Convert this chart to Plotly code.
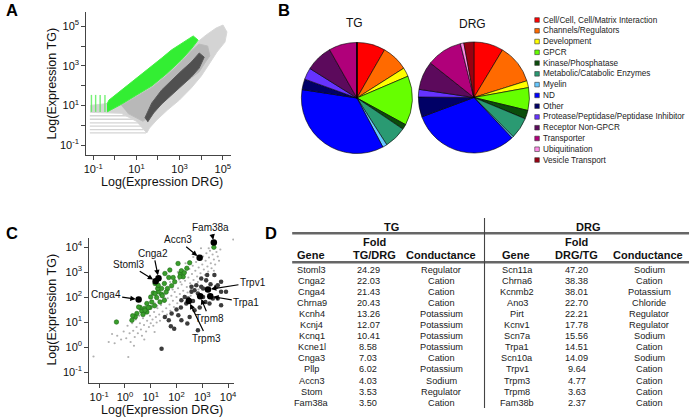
import numpy as np
import plotly.graph_objects as go

W, H = 695, 420
FONT = "Liberation Sans, Arial, Helvetica, sans-serif"


def px(x):
    return x / W


def py(y):
    return 1 - y / H


# ---------------- Panel A : outlines of the point clouds (log10 DRG, log10 TG) ----------------
a_gray_lx = [-1.14, -0.59, -0.13, 0.56, 1.25, 2.17, 3.08, 3.77, 4.23, 4.69, 5.01, 5.19, 5.10, 4.73,
             4.37, 4.00, 3.54, 2.99, 2.44, 1.94, 1.61, 1.48, 1.00, 0.30, -1.14]
a_gray_ly = [1.00, 1.05, 1.12, 1.68, 2.18, 2.80, 3.55, 4.15, 4.56, 4.91, 5.06, 4.71, 4.20, 3.70,
             3.09, 2.48, 1.88, 1.27, 0.77, 0.26, -0.14, -0.39, 0.20, 0.60, 0.65]
a_core_lx = [0.30, 1.02, 1.71, 2.39, 3.08, 3.54, 3.90, 4.30, 4.40, 4.20, 3.91, 3.30, 2.60, 2.00,
             1.60, 1.30, 0.60]
a_core_ly = [1.00, 1.45, 1.90, 2.50, 3.20, 3.75, 4.10, 4.00, 3.50, 3.20, 2.70, 2.20, 1.55, 0.90,
             0.40, 0.20, 0.60]
a_green_lx = [-0.36, 0.33, 1.02, 1.71, 2.39, 3.08, 3.54, 3.86, 3.63, 3.08, 2.62, 2.17, 1.71, 1.25,
              0.65, 0.10, -0.27, -0.36]
a_green_ly = [0.67, 1.07, 1.53, 1.98, 2.59, 3.29, 3.85, 4.30, 4.51, 4.10, 3.80, 3.39, 2.99, 2.59,
              2.08, 1.58, 1.27, 1.07]
a_dark_lx = [1.39, 1.71, 2.17, 2.62, 3.08, 3.54, 3.91, 4.14, 3.91, 3.54, 3.08, 2.62, 2.17, 1.80, 1.52]
a_dark_ly = [0.36, 1.12, 1.78, 2.28, 2.74, 3.19, 3.65, 3.44, 2.89, 2.43, 1.98, 1.53, 1.07, 0.62, 0.16]
# discrete low-count streaks
a_streak_tg = [0.41, 0.60, 0.89, 1.32, 2.0, 3.0]
a_streak_drg_end = [28, 22, 18, 14, 11, 9]
a_streak_drg_start = 0.07
a_gcol_drg = [0.083, 0.13, 0.21, 0.35]
a_gcol_tg = [4.7, 34]

a_tickvals = [0.1, 10, 1000, 1e5]
a_ticktext = ["10<sup>-1</sup>", "10<sup>1</sup>", "10<sup>3</sup>", "10<sup>5</sup>"]
a_minorvals = [1, 100, 1e4]

# ---------------- Panel B ----------------
categories = ["Cell/Cell, Cell/Matrix Interaction", "Channels/Regulators", "Development", "GPCR",
              "Kinase/Phosphatase", "Metabolic/Catabolic Enzymes", "Myelin", "ND", "Other",
              "Protease/Peptidase/Peptidase Inhibitor", "Receptor Non-GPCR", "Transporter",
              "Ubiquitination", "Vesicle Transport"]
cat_colors = ["#ff0000", "#ff6a00", "#ffff00", "#66ff00", "#0b4d0b", "#2a9a72", "#66c8ff",
              "#0000ff", "#000066", "#6633ff", "#5c0a5c", "#b0007a", "#ff8ce6", "#990011"]
tg_pct = [8.3, 7.7, 2.6, 14.4, 1.5, 6.5, 1.3, 35.2, 3.1, 3.4, 7.9, 8.2, 0.0, 0.0]
drg_pct = [8.6, 11.5, 2.0, 6.6, 2.5, 6.2, 0.5, 31.3, 5.8, 2.2, 8.3, 10.4, 1.0, 2.9]

# ---------------- Panel C (log10 DRG, log10 TG) ----------------
c_gray_lx = [-1.22, -0.63, -0.40, 0.13, -0.50, -0.30, -0.15, -0.05, 0.05, 0.10,
             0.18, 0.22, 0.28, 0.32, 0.38, 0.42, 0.45, 0.50, 0.55, 0.58,
             0.62, 0.66, 0.70, 0.74, 0.78, 0.82, 0.86, 0.90, 0.93, 0.97,
             1.00, 1.04, 1.07, 1.10, 1.13, 1.16, 1.20, 1.23, 1.26, 1.30,
             1.33, 1.36, 1.40, 1.43, 1.46, 1.50, 1.53, 1.56, 1.60, 1.63,
             1.66, 1.70, 1.73, 1.76, 1.80, 1.83, 1.86, 1.90, 1.93, 1.96,
             2.00, 2.03, 2.06, 2.10, 2.13, 2.16, 2.20, 2.23, 2.26, 2.30,
             2.33, 2.36, 2.40, 2.43, 2.46, 2.50, 2.53, 2.56, 2.60, 2.63,
             2.66, 2.70, 2.73, 2.76, 2.80, 2.83, 2.86, 2.90, 2.93, 2.96,
             3.00, 3.03, 3.06, 3.10, 3.13, 3.16, 3.20, 3.23, 3.26, 3.30,
             3.33, 3.36, 3.40, 3.45, 3.50, 3.55, 3.60, 3.65, 3.70, 4.20,
             0.95, 1.45, 1.75, 2.05, 2.35, 2.65, 2.95, 3.25, 1.15, 2.45,
             1.25, 1.55, 1.85, 2.15, 2.55, 2.85, 3.15, 3.45, 0.35, 0.75]
c_gray_ly = [-0.38, 0.20, 0.15, -0.40, 0.52, 0.45, 0.30, 0.62, 0.35, 0.85,
             0.55, 0.20, 0.95, 0.65, 0.40, 1.10, 0.80, 0.55, 1.25, 0.95,
             0.70, 0.45, 1.15, 0.88, 1.35, 0.62, 1.05, 1.50, 0.80, 1.25,
             0.95, 1.62, 1.10, 0.85, 1.40, 1.75, 1.20, 0.98, 1.55, 1.88,
             1.30, 1.05, 1.68, 2.00, 1.42, 1.18, 1.80, 2.12, 1.55, 1.30,
             1.95, 2.28, 1.70, 1.45, 2.05, 2.45, 1.85, 1.60, 2.20, 2.58,
             2.00, 1.75, 2.35, 2.70, 2.12, 1.90, 2.50, 2.85, 2.25, 2.05,
             2.65, 3.00, 2.40, 2.18, 2.78, 3.12, 2.55, 2.30, 2.92, 3.25,
             2.68, 2.45, 3.05, 3.40, 2.82, 2.60, 3.18, 3.55, 2.95, 2.75,
             3.30, 3.62, 3.10, 2.88, 3.45, 3.75, 3.22, 3.02, 3.58, 3.85,
             3.35, 3.15, 3.70, 3.50, 3.30, 3.80, 3.62, 3.45, 3.90, 4.30,
             1.95, 2.35, 2.60, 3.00, 3.35, 3.60, 3.95, 3.95, 0.60, 1.95,
             1.65, 1.95, 2.30, 2.60, 2.05, 2.30, 2.60, 3.05, 0.05, 0.30]
c_green_lx = [3.45, 2.51, 2.15, 2.26, 1.93, 1.70, 1.81, 1.53, 1.65, 1.42,
              1.30, 1.10, 1.42, 1.23, 1.53, 1.04, 0.85, 0.97, 0.76, 0.65,
              0.59, 0.46, 0.85, 0.27, -0.33, 1.17, 1.27, 1.74, 2.06, 1.55,
              1.36, 2.19, 2.30, 0.53, 0.78, 0.91, 1.17, 1.29, 2.13, 1.87,
              0.40, 0.70, 1.00, 1.60, 1.15, 0.30, 1.45, 2.40]
c_green_ly = [3.99, 3.37, 2.94, 2.81, 2.61, 2.78, 2.45, 2.54, 2.34, 2.34,
              2.21, 2.16, 2.11, 1.98, 1.87, 1.80, 1.74, 1.58, 1.54, 1.44,
              1.58, 1.34, 1.40, 1.07, 1.00, 2.54, 2.34, 3.08, 3.34, 2.94,
              1.80, 3.05, 2.97, 1.60, 1.47, 1.58, 2.14, 2.47, 2.81, 2.78,
              1.20, 1.30, 2.00, 2.20, 1.65, 1.25, 2.05, 3.15]
c_dark_lx = [3.15, 3.32, 3.54, 3.73, 2.96, 2.77, 2.58, 2.58, 2.83, 3.03,
             2.32, 2.19, 2.38, 2.17, 2.00, 1.81, 2.07, 1.70, 1.91, 2.42,
             2.19, 2.70, 2.90, 3.28, 3.73, 3.60, 3.41, 3.12, 2.64, 2.45,
             2.96, 3.19, 3.47, 3.92, 3.73, 1.42, 2.70, 3.03, 1.78, 1.55,
             2.51, 2.83, 3.60]
c_dark_ly = [2.67, 2.51, 2.41, 2.61, 2.41, 2.47, 2.41, 2.21, 2.14, 2.00,
             2.00, 1.87, 1.74, 1.58, 1.50, 1.34, 1.27, 1.07, 0.73, 0.94,
             1.07, 1.47, 1.58, 1.74, 2.21, 1.94, 1.94, 1.80, 1.84, 1.94,
             2.74, 2.88, 2.88, 2.21, 1.67, -0.07, 2.27, 2.34, 0.83, 1.20,
             1.20, 0.67, 2.47]
c_lab_genes = ["Fam38a", "Accn3", "Cnga2", "Stoml3", "Cnga4", "Trpv1", "Trpa1", "Trpm8", "Trpm3"]
c_lab_drg = [2800, 790, 20, 15.5, 3.4, 1660, 2040, 830, 300]
c_lab_tg = [15000, 3700, 560, 430, 79, 200, 107, 107, 69]
c_lab_offset = [(-3, -15), (-22, -18), (-5, -25), (-27, -17), (-33, -5), (45, -7), (36, 6), (9, 22), (18, 37)]
c_tickvals = [0.1, 1, 10, 100, 1000, 1e4]
c_ticktext = ["10<sup>-1</sup>", "10<sup>0</sup>", "10<sup>1</sup>", "10<sup>2</sup>", "10<sup>3</sup>", "10<sup>4</sup>"]

# ---------------- Panel D ----------------
tg_genes = ["Stoml3", "Cnga2", "Cnga4", "Chrna9", "Kcnh4", "Kcnj4", "Kcnq1", "Kcne1l", "Cnga3", "Pllp",
            "Accn3", "Stom", "Fam38a"]
tg_fold = [24.29, 22.03, 21.43, 20.43, 13.26, 12.07, 10.41, 8.58, 7.03, 6.02, 4.03, 3.53, 3.50]
tg_cond = ["Regulator", "Cation", "Cation", "Cation", "Potassium", "Potassium", "Potassium", "Potassium",
           "Cation", "Potassium", "Sodium", "Regulator", "Cation"]
drg_genes = ["Scn11a", "Chrna6", "Kcnmb2", "Ano3", "Pirt", "Kcnv1", "Scn7a", "Trpa1", "Scn10a", "Trpv1",
             "Trpm3", "Trpm8", "Fam38b"]
drg_fold = [47.20, 38.38, 38.01, 22.70, 22.21, 17.78, 15.56, 14.51, 14.09, 9.64, 4.77, 3.63, 2.37]
drg_cond = ["Sodium", "Cation", "Potassium", "Chloride", "Regulator", "Regulator", "Sodium", "Cation",
            "Sodium", "Cation", "Cation", "Cation", "Cation"]

fig = go.Figure()

# ---- A traces ----
sx, sy = [], []
for t, e in zip(a_streak_tg, a_streak_drg_end):
    sx += [a_streak_drg_start, e, None]
    sy += [t, t, None]
fig.add_trace(go.Scatter(x=sx, y=sy, mode="lines", line=dict(color="#d4d4d4", width=1.3),
                         xaxis="x", yaxis="y", hoverinfo="skip"))
fig.add_trace(go.Scatter(x=10 ** np.array(a_gray_lx), y=10 ** np.array(a_gray_ly), fill="toself",
                         mode="lines", line=dict(color="#d8d8d8", width=1), fillcolor="#d4d4d4",
                         xaxis="x", yaxis="y", hoverinfo="skip"))
fig.add_trace(go.Scatter(x=10 ** np.array(a_core_lx), y=10 ** np.array(a_core_ly), fill="toself",
                         mode="lines", line=dict(color="#bcbcbc", width=1), fillcolor="#b8b8b8",
                         xaxis="x", yaxis="y", hoverinfo="skip"))
gx, gy = [], []
for d in a_gcol_drg:
    gx += [d, d, None]
    gy += [a_gcol_tg[0], a_gcol_tg[1], None]
fig.add_trace(go.Scatter(x=gx, y=gy, mode="lines", line=dict(color="#55ee55", width=1.4),
                         opacity=0.8, xaxis="x", yaxis="y", hoverinfo="skip"))
fig.add_trace(go.Scatter(x=10 ** np.array(a_green_lx), y=10 ** np.array(a_green_ly), fill="toself",
                         mode="lines", line=dict(color="#44f044", width=1), fillcolor="#33ee33",
                         xaxis="x", yaxis="y", hoverinfo="skip"))
fig.add_trace(go.Scatter(x=10 ** np.array(a_dark_lx), y=10 ** np.array(a_dark_ly), fill="toself",
                         mode="lines", line=dict(color="#5a5a5a", width=1), fillcolor="#505050",
                         xaxis="x", yaxis="y", hoverinfo="skip"))

# ---- B pies ----
for vals, dom in [(tg_pct, dict(x=[px(301), px(413)], y=[py(154), py(42)])),
                  (drg_pct, dict(x=[px(419), px(531)], y=[py(153.5), py(41.5)]))]:
    fig.add_trace(go.Pie(values=vals, labels=categories, marker=dict(colors=cat_colors,
                         line=dict(color="#000000", width=0.6)), sort=False, direction="clockwise",
                         rotation=0, textinfo="none", domain=dom, showlegend=False, hoverinfo="label+percent"))

# ---- C traces ----
fig.add_trace(go.Scatter(x=10 ** np.array(c_gray_lx), y=10 ** np.array(c_gray_ly), mode="markers",
                         marker=dict(color="#b0b0b0", size=2.2), xaxis="x2", yaxis="y2"))
fig.add_trace(go.Scatter(x=10 ** np.array(c_green_lx), y=10 ** np.array(c_green_ly), mode="markers",
                         marker=dict(color="#3a9e2c", size=4.5, line=dict(color="#1f6a16", width=0.6)),
                         xaxis="x2", yaxis="y2"))
fig.add_trace(go.Scatter(x=10 ** np.array(c_dark_lx), y=10 ** np.array(c_dark_ly), mode="markers",
                         marker=dict(color="#3c3c3c", size=4.5), xaxis="x2", yaxis="y2"))
fig.add_trace(go.Scatter(x=c_lab_drg, y=c_lab_tg, mode="markers",
                         marker=dict(color="#000000", size=6.5), xaxis="x2", yaxis="y2"))

annotations = []
shapes = []


def txt(text, x, y, size, xanchor="center", angle=0, color="#111"):
    return dict(text=text, x=px(x), y=py(y), xref="paper", yref="paper", showarrow=False,
                xanchor=xanchor, yanchor="middle", textangle=angle, font=dict(size=size, color=color))


# axis titles
annotations += [
    txt("Log(Expression DRG)", 160, 182, 12.5),
    txt("Log(Expression TG)", 49, 84, 12.5, angle=-90),
    txt("Log(Expression DRG)", 160, 410, 12.5),
    txt("Log(Expression TG)", 49, 310, 12.5, angle=-90),
]
# panel letters
for L, x, y in [("A", 9.5, 10), ("B", 283, 10), ("C", 9.5, 233), ("D", 270, 233)]:
    annotations.append(txt("<b>%s</b>" % L, x, y, 16.5, color="#000"))
# pie titles
annotations += [txt("TG", 355, 23, 12), txt("DRG", 474, 24, 12)]
# custom legend
for i, (c, col) in enumerate(zip(categories, cat_colors)):
    yc = 20 + i * 10.77
    shapes.append(dict(type="rect", xref="paper", yref="paper", x0=px(536.4), x1=px(541),
                       y0=py(yc + 2.3), y1=py(yc - 2.3), fillcolor=col, line=dict(color="#333", width=0.6)))
    annotations.append(txt(c, 542.5, yc, 8.2, xanchor="left", color="#222"))

# C gene labels with arrows
for g, d, t, (ax, ay) in zip(c_lab_genes, c_lab_drg, c_lab_tg, c_lab_offset):
    annotations.append(dict(text=g, x=np.log10(d), y=np.log10(t), xref="x2", yref="y2", ax=ax, ay=ay,
                            showarrow=True, arrowhead=2, arrowsize=0.9, arrowwidth=1.2, arrowcolor="#000",
                            standoff=3, font=dict(size=10, color="#111")))

# D table
annotations += [txt("<b>TG</b>", 391.5, 226.5, 11), txt("<b>DRG</b>", 590, 226.5, 11)]
for cx in (375, 578.5):
    annotations.append(txt("<b>Fold</b>", cx, 242.5, 11))
for cx, t in [(311, "Gene"), (375, "TG/DRG"), (442, "Conductance"),
              (517, "Gene"), (578.5, "DRG/TG"), (651, "Conductance")]:
    annotations.append(txt("<b>%s</b>" % t, cx, 255.5, 11))
for i in range(len(tg_genes)):
    yr = 270 + i * 11.05
    for cx, t in [(311.5, tg_genes[i]), (368.5, "%.2f" % tg_fold[i]), (442, tg_cond[i]),
                  (518.5, drg_genes[i]), (578.5, "%.2f" % drg_fold[i]), (652, drg_cond[i])]:
        annotations.append(txt(t, cx, yr, 9.2, color="#1a1a1a"))
for yy in (233.3, 262.3):
    shapes.append(dict(type="line", xref="paper", yref="paper", x0=px(291.7), x1=px(692),
                       y0=py(yy), y1=py(yy), line=dict(color="#666", width=2.6)))
shapes.append(dict(type="line", xref="paper", yref="paper", x0=px(485.7), x1=px(485.7),
                   y0=py(218), y1=py(408), line=dict(color="#444", width=1.1)))

axis_common = dict(type="log", showgrid=False, zeroline=False, showline=True, linecolor="#444",
                   linewidth=1, ticks="outside", ticklen=4, tickcolor="#444",
                   tickfont=dict(size=11, color="#111"))
a_minor = dict(tickvals=a_minorvals, ticks="outside", ticklen=4, tickcolor="#444", showgrid=False)

fig.update_layout(
    width=W, height=H, margin=dict(l=0, r=0, t=0, b=0),
    paper_bgcolor="white", plot_bgcolor="rgba(0,0,0,0)", showlegend=False,
    font=dict(family=FONT, color="#111"),
    xaxis=dict(domain=[px(84), px(230)], range=[-1.32, 5.38], anchor="y",
               tickvals=a_tickvals, ticktext=a_ticktext, minor=a_minor, **axis_common),
    yaxis=dict(domain=[py(155), py(12)], range=[-1.505, 5.72], anchor="x",
               tickvals=a_tickvals, ticktext=a_ticktext, minor=a_minor, **axis_common),
    xaxis2=dict(domain=[px(87), px(233)], range=[-1.385, 4.23], anchor="y2",
                tickvals=c_tickvals, ticktext=c_ticktext, **axis_common),
    yaxis2=dict(domain=[py(383), py(238)], range=[-1.44, 4.36], anchor="x2",
                tickvals=c_tickvals, ticktext=c_ticktext, **axis_common),
    annotations=annotations, shapes=shapes,
)

fig.write_html("out.html", config={"displayModeBar": False},
               post_script="document.body.style.margin='0px';")
